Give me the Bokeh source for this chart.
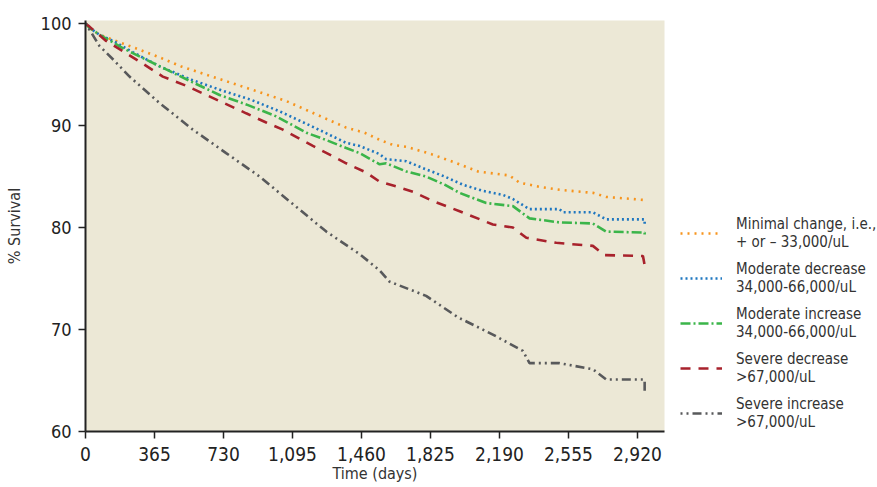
from bokeh.plotting import figure
from bokeh.models import Legend, LegendItem, FixedTicker, NumeralTickFormatter, Range1d
from bokeh.embed import file_html
from bokeh.resources import INLINE

# ---- data ----
minimal_days = [0, 20, 74, 145, 233, 390, 506, 620, 744, 900, 1062, 1220, 1379, 1476, 1556, 1626, 1700, 1829, 1950, 2076, 2243, 2296, 2400, 2508, 2684, 2755, 2958]
minimal_surv = [100, 99.6, 98.9, 98.4, 97.8, 96.7, 95.8, 95.1, 94.35, 93.4, 92.4, 91.1, 89.8, 89.3, 88.6, 88.1, 87.9, 87.2, 86.4, 85.5, 85.1, 84.4, 84.0, 83.7, 83.4, 83.0, 82.7]

moddec_days = [0, 20, 74, 145, 250, 392, 560, 727, 880, 1026, 1200, 1379, 1450, 1556, 1591, 1697, 1802, 1900, 1996, 2100, 2208, 2260, 2349, 2508, 2526, 2683, 2755, 2958, 2958]
moddec_surv = [100, 99.6, 98.9, 98.3, 97.2, 95.8, 94.5, 93.4, 92.5, 91.4, 89.9, 88.3, 88.0, 87.2, 86.7, 86.5, 85.7, 85.0, 84.2, 83.6, 83.2, 82.8, 81.8, 81.8, 81.5, 81.5, 80.8, 80.8, 80.3]

modinc_days = [0, 20, 74, 197, 250, 427, 560, 709, 860, 1009, 1168, 1270, 1379, 1450, 1556, 1591, 1697, 1802, 1900, 1979, 2120, 2261, 2349, 2508, 2684, 2755, 2958, 2958]
modinc_surv = [100, 99.6, 98.9, 97.6, 97.1, 95.5, 94.3, 93.0, 92.0, 90.9, 89.3, 88.6, 87.8, 87.3, 86.2, 86.3, 85.5, 85.0, 84.2, 83.4, 82.4, 82.1, 80.9, 80.5, 80.4, 79.6, 79.5, 79.2]

sevdec_days = [0, 21, 109, 197, 300, 409, 533, 709, 850, 956, 1044, 1203, 1379, 1485, 1556, 1650, 1732, 1838, 1979, 2155, 2261, 2332, 2490, 2684, 2746, 2949, 2958]
sevdec_surv = [100, 99.7, 98.3, 97.3, 96.1, 94.8, 93.9, 92.4, 91.2, 90.3, 89.6, 88.0, 86.3, 85.4, 84.5, 84.0, 83.5, 82.6, 81.6, 80.3, 80.0, 79.0, 78.5, 78.2, 77.3, 77.2, 76.3]

sevinc_days = [0, 21, 74, 145, 233, 392, 568, 744, 921, 1097, 1274, 1450, 1556, 1608, 1802, 1970, 2155, 2314, 2349, 2508, 2684, 2755, 2958, 2958]
sevinc_surv = [100, 99.4, 97.8, 96.5, 94.8, 92.2, 89.6, 87.3, 85.0, 82.3, 79.6, 77.4, 75.8, 74.7, 73.3, 71.2, 69.5, 67.9, 66.7, 66.7, 66.1, 65.1, 65.1, 63.6]

x_ticks = [0, 365, 730, 1095, 1460, 1825, 2190, 2555, 2920]
y_ticks = [60, 70, 80, 90, 100]

labels = ["Minimal change, i.e.,\n+ or \u2013 33,000/uL",
          "Moderate decrease\n34,000-66,000/uL",
          "Moderate increase\n34,000-66,000/uL",
          "Severe decrease\n>67,000/uL",
          "Severe increase\n>67,000/uL"]

FONT = "DejaVu Sans Condensed"

p = figure(frame_width=579, frame_height=411, output_backend="svg", toolbar_location=None,
           x_range=Range1d(0, 3063), y_range=Range1d(60, 100.3),
           min_border_left=85, min_border_right=190, min_border_top=20, min_border_bottom=46)
p.background_fill_color = "#ECE8D6"
p.border_fill_color = "white"
p.outline_line_color = None
p.grid.visible = False

series = [
    (minimal_days, minimal_surv, "#F7941D", "2 5", 2.6),
    (moddec_days, moddec_surv, "#1F77C0", "2 3", 2.6),
    (modinc_days, modinc_surv, "#3BB54A", "10 3 2 3", 2.6),
    (sevdec_days, sevdec_surv, "#A8222C", "10 8", 2.6),
    (sevinc_days, sevinc_surv, "#58595B", "2 4 2 4 9 4", 2.6),
]
items = []
for (xs, ys, c, d, w), lab in zip(series, labels):
    r = p.line(xs, ys, line_color=c, line_dash=d, line_width=w)
    items.append(LegendItem(label=lab, renderers=[r]))

legend = Legend(items=items, location=(16, 0))
legend.background_fill_alpha = 0
legend.border_line_color = None
legend.label_text_font = FONT
legend.label_text_font_size = "15px"
legend.label_text_line_height = 1.3
legend.label_text_color = "#333333"
legend.glyph_width = 42
legend.label_standoff = 14
legend.spacing = 9
legend.padding = 0
legend.margin = 0
p.add_layout(legend, "right")

for ax in (p.xaxis[0], p.yaxis[0]):
    ax.axis_line_color = "#222222"
    ax.axis_line_width = 2
    ax.major_tick_line_color = "#222222"
    ax.major_tick_line_width = 1.5
    ax.major_tick_out = 7
    ax.major_tick_in = 0
    ax.minor_tick_line_color = None
    ax.major_label_text_font = FONT
    ax.major_label_text_color = "#222222"
    ax.axis_label_text_font = FONT
    ax.axis_label_text_font_style = "normal"
    ax.axis_label_text_color = "#333333"
    ax.axis_label_text_font_size = "16px"

p.xaxis.ticker = FixedTicker(ticks=x_ticks)
p.xaxis.formatter = NumeralTickFormatter(format="0,0")
p.xaxis.major_label_text_font_size = "19px"
p.xaxis.axis_label = "Time (days)"
p.xaxis.major_label_standoff = 8
p.xaxis.axis_label_standoff = 0

p.yaxis.ticker = FixedTicker(ticks=y_ticks)
p.yaxis.major_label_text_font_size = "18px"
p.yaxis.axis_label = "% Survival"
p.yaxis.major_label_standoff = 7
p.yaxis.axis_label_standoff = 14

open("out.html", "w").write(file_html(p, INLINE))
